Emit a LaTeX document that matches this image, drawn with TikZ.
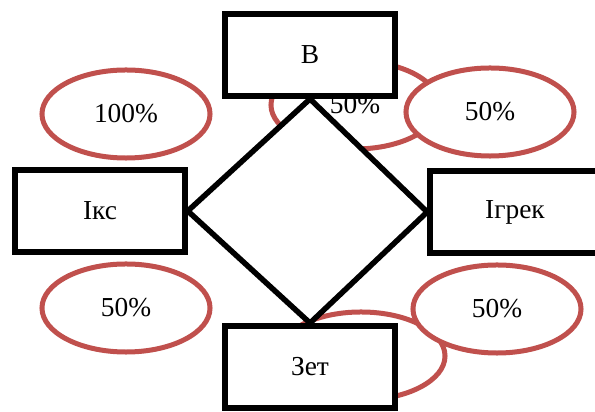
\documentclass[tikz,border=0pt]{standalone}
\usepackage{fontspec}
\setmainfont{Liberation Serif}
\usepackage{tikz}
\usetikzlibrary{shapes.geometric}
\definecolor{ovalred}{RGB}{192,80,77}

\begin{document}
\begin{tikzpicture}[x=0.025cm, y=-0.025cm]
\tikzset{
  entity/.style={rectangle, draw, fill=white, line width=0.1375cm, minimum width=4.25cm, minimum height=2.06cm, font=\fontsize{19.5}{23}\selectfont},
  share/.style={ellipse, draw=ovalred, fill=white, line width=0.125cm, minimum width=4.2cm, minimum height=2.2cm, font=\fontsize{19.5}{23}\selectfont}
}
\useasboundingbox (0,0) rectangle (595,412);

\node[share] (midtop) at (355,105) {50\%};
\node[share] (midbottom) at (361,356) {};
\node[share] (full) at (126,114) {100\%};
\node[share] (halfleft) at (126,308) {50\%};
\node[share] (halftop) at (490,112) {50\%};
\node[share] (halfright) at (497,309) {50\%};

\node[entity] (v) at (310,55) {В};
\node[entity] (iks) at (100,211) {Ікс};
\node[entity] (igrek) at (515,212) {Ігрек};
\node[entity] (zet) at (310,367) {Зет};

\draw[line width=0.1375cm, fill=white] (v.south) -- (igrek.west) -- (zet.north) -- (iks.east) -- cycle;
\end{tikzpicture}
\end{document}
